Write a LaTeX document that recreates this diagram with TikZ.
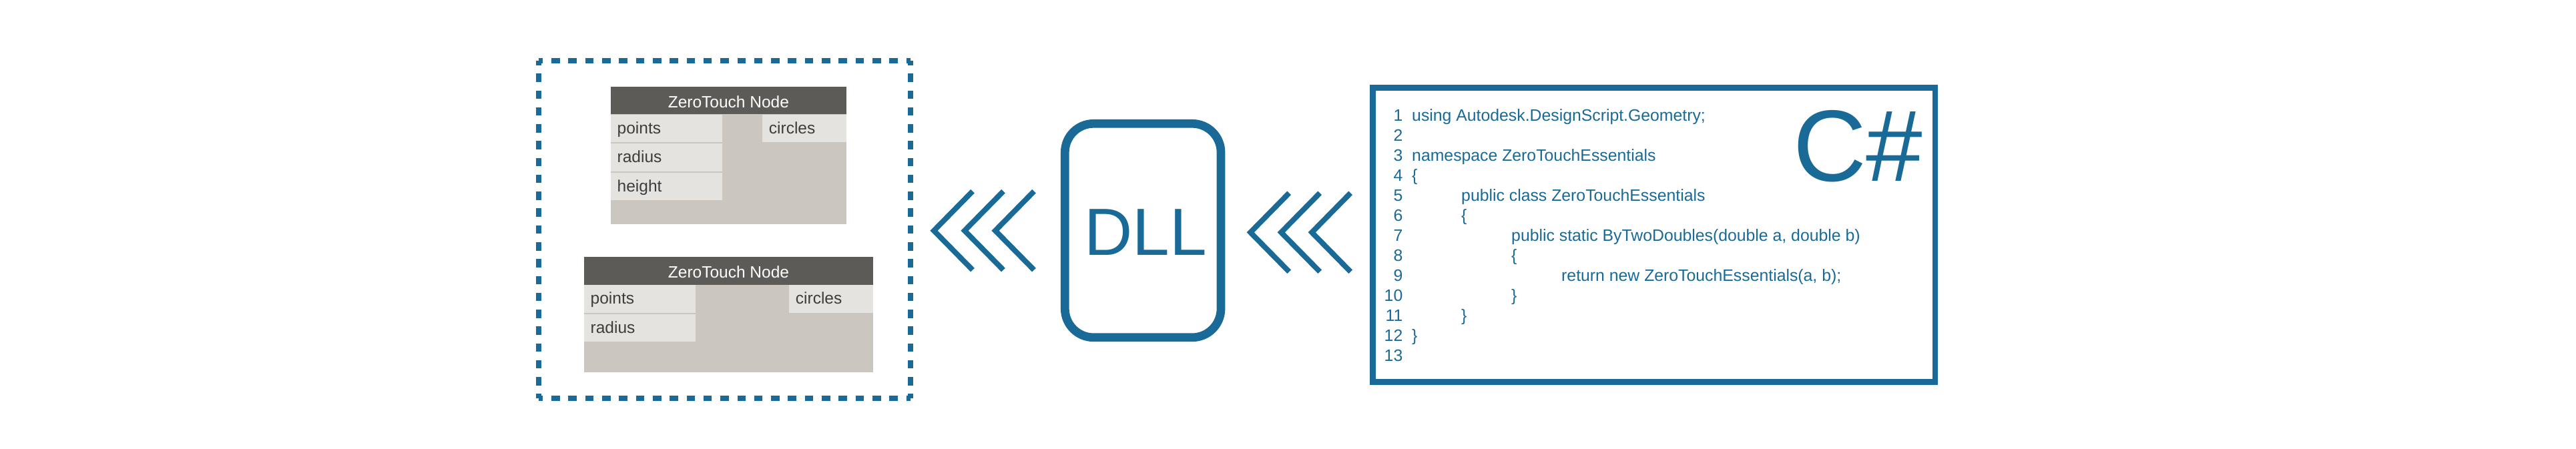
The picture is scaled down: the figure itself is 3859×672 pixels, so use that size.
\documentclass[tikz,border=0pt]{standalone}
\usepackage{fontspec}
\setmainfont{Liberation Sans}
\definecolor{zblue}{HTML}{1A6A97}
\definecolor{zhead}{HTML}{5D5B58}
\definecolor{zrow}{HTML}{E5E3DF}
\definecolor{zbody}{HTML}{CBC6BF}
\definecolor{zlabel}{HTML}{3D3D3D}
\newcommand{\fsz}[1]{\fontsize{#1pt}{#1pt}\selectfont}
\begin{document}
\begin{tikzpicture}[x=1pt,y=-1pt,
  boxnw/.style={inner sep=0pt,outer sep=0pt,anchor=north west,draw=none},
  bodybox/.style={boxnw,fill=zbody},
  headbox/.style={boxnw,fill=zhead},
  rowbox/.style={boxnw,fill=zrow},
  headtxt/.style={anchor=base,inner sep=0pt,text=white,font=\fsz{24.5}},
  labtxt/.style={anchor=base west,inner sep=0pt,text=zlabel,font=\fsz{24.5}},
  frameline/.style={draw=zblue,line width=7.7pt,line cap=butt},
  chev/.style={draw=zblue,line width=8pt,line cap=butt,line join=miter},
  codetxt/.style={anchor=base west,inner sep=0pt,text=zblue,font=\fsz{24.8}},
  codenum/.style={anchor=base east,inner sep=0pt,text=zblue,font=\fsz{24.8}}
]
\useasboundingbox (0,0) rectangle (3859,672);
\fill[white] (0,0) rectangle (3859,672);

% ---------- dashed frame ----------
\coordinate (fa) at (807,91.3);
\coordinate (fb) at (1364,91.3);
\coordinate (fc) at (1364,596.7);
\coordinate (fd) at (807,596.7);
\draw[frameline,dash pattern=on 12.6pt off 12.718pt,dash phase=6.3pt] (fa) -- (fb);
\draw[frameline,dash pattern=on 12.6pt off 12.718pt,dash phase=6.3pt] (fd) -- (fc);
\draw[frameline,dash pattern=on 12.6pt off 12.67pt,dash phase=6.3pt] (fa) -- (fd);
\draw[frameline,dash pattern=on 12.6pt off 12.67pt,dash phase=6.3pt] (fb) -- (fc);

% ---------- ZeroTouch node 1 ----------
\node[bodybox,minimum width=352.7pt,minimum height=205.7pt] (n1) at (915,130) {};
\node[headbox,minimum width=352.7pt,minimum height=41pt] (n1h) at (915,130) {};
\node[headtxt] (n1t) at (1091.35,161) {ZeroTouch Node};
\node[rowbox,minimum width=167.3pt,minimum height=41pt] (n1a) at (915,171.7) {};
\node[rowbox,minimum width=167.3pt,minimum height=41.7pt] (n1b) at (915,215) {};
\node[rowbox,minimum width=167.3pt,minimum height=41pt] (n1c) at (915,259) {};
\node[rowbox,minimum width=126pt,minimum height=41pt] (n1o) at (1141.7,171.7) {};
\node[labtxt] (n1la) at (924.5,200) {points};
\node[labtxt] (n1lb) at (924.5,243.3) {radius};
\node[labtxt] (n1lc) at (924.5,287.3) {height};
\node[labtxt] (n1lo) at (1151.7,200) {circles};

% ---------- ZeroTouch node 2 ----------
\node[bodybox,minimum width=433pt,minimum height=173pt] (n2) at (875,385.3) {};
\node[headbox,minimum width=433pt,minimum height=41.4pt] (n2h) at (875,385.3) {};
\node[headtxt] (n2t) at (1091.5,416.3) {ZeroTouch Node};
\node[rowbox,minimum width=167.2pt,minimum height=41.3pt] (n2a) at (875,427.4) {};
\node[rowbox,minimum width=167.2pt,minimum height=41.3pt] (n2b) at (875,470.7) {};
\node[rowbox,minimum width=126.3pt,minimum height=41.3pt] (n2o) at (1181.7,427.4) {};
\node[labtxt] (n2la) at (884.5,455.7) {points};
\node[labtxt] (n2lb) at (884.5,499) {radius};
\node[labtxt] (n2lo) at (1191.7,455.7) {circles};

% ---------- chevrons ----------
\foreach \ax in {1399,1445,1491}{
  \draw[chev] (\ax+58,286.7) -- (\ax,345.7) -- (\ax+58,404.7);
}
\foreach \ax in {1873.2,1919.2,1965.2}{
  \draw[chev] (\ax+58,289.3) -- (\ax,348.3) -- (\ax+58,407.3);
}

% ---------- DLL ----------
\node[draw=zblue,line width=12.7pt,rounded corners=43pt,inner sep=0pt,outer sep=0pt,
      minimum width=233.7pt,minimum height=320.5pt] (dll) at (1712.15,345.55) {};
\node[anchor=base,inner sep=0pt,text=zblue,font=\fsz{100}] (dlltxt) at (1716,382.7) {DLL};

% ---------- C# code box ----------
\node[draw=zblue,line width=8.5pt,inner sep=0pt,outer sep=0pt,
      minimum width=842.5pt,minimum height=441.2pt] (code) at (2477.55,352.1) {};
\node[anchor=base west,inner sep=0pt,text=zblue,font=\fsz{152}] (csharp) at (2686,271) {C\#};

\foreach \i in {1,...,13}{
  \node[codenum] (ln\i) at (2101.5,{151+30*\i}) {\i};
}
\node[codetxt] (c1) at (2115,181) {using Autodesk.DesignScript.Geometry;};
\node[codetxt] (c3) at (2115,241) {namespace ZeroTouchEssentials};
\node[codetxt] (c4) at (2115,271) {\{};
\node[codetxt] (c5) at (2189,301) {public class ZeroTouchEssentials};
\node[codetxt] (c6) at (2189,331) {\{};
\node[codetxt] (c7) at (2264,361) {public static ByTwoDoubles(double a, double b)};
\node[codetxt] (c8) at (2264,391) {\{};
\node[codetxt] (c9) at (2339,421) {return new ZeroTouchEssentials(a, b);};
\node[codetxt] (c10) at (2264,451) {\}};
\node[codetxt] (c11) at (2189,481) {\}};
\node[codetxt] (c12) at (2115,511) {\}};
\end{tikzpicture}
\end{document}
